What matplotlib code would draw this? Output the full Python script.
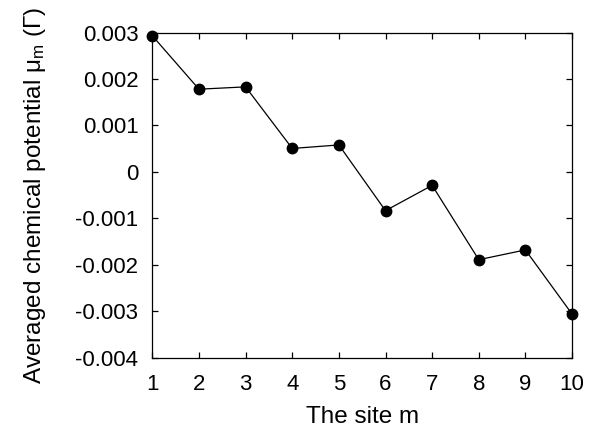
import matplotlib
matplotlib.use("Agg")
import matplotlib.pyplot as plt

plt.rcParams['font.family'] = ['Liberation Sans', 'DejaVu Sans']
plt.rcParams['mathtext.fontset'] = 'custom'
plt.rcParams['mathtext.rm'] = 'Liberation Sans'
plt.rcParams['mathtext.it'] = 'Liberation Sans'

sites = [1, 2, 3, 4, 5, 6, 7, 8, 9, 10]
mu_avg = [0.00293, 0.00178, 0.00183, 0.000504, 0.00058,
          -0.000835, -0.00029, -0.00189, -0.00168, -0.00306]
yticks = [0.003, 0.002, 0.001, 0, -0.001, -0.002, -0.003, -0.004]
ytick_labels = ['0.003', '0.002', '0.001', '0', '-0.001', '-0.002', '-0.003', '-0.004']

fig = plt.figure(figsize=(5.99, 4.29), dpi=100)
ax = fig.add_axes([0.2543, 0.1662, 0.7007, 0.758])

ax.plot(sites, mu_avg, color='black', linewidth=0.9, marker='o',
        markersize=7.5, clip_on=False, zorder=3)

ax.set_xlim(1, 10)
ax.set_ylim(-0.004, 0.003)
ax.set_xticks(sites)
ax.set_yticks(yticks)
ax.set_yticklabels(ytick_labels)
ax.tick_params(direction='in', top=True, right=True, length=4.5,
               width=0.9, labelsize=16)
ax.tick_params(axis='x', pad=11.5)
ax.tick_params(axis='y', pad=10)
for s in ax.spines.values():
    s.set_linewidth(0.9)

ax.set_xlabel('The site m', fontsize=17.5, labelpad=8)
ax.set_ylabel(r'Averaged chemical potential μ$_\mathrm{m}$ (Γ)', fontsize=17.5, labelpad=20)

fig.savefig('out.png', dpi=100)
